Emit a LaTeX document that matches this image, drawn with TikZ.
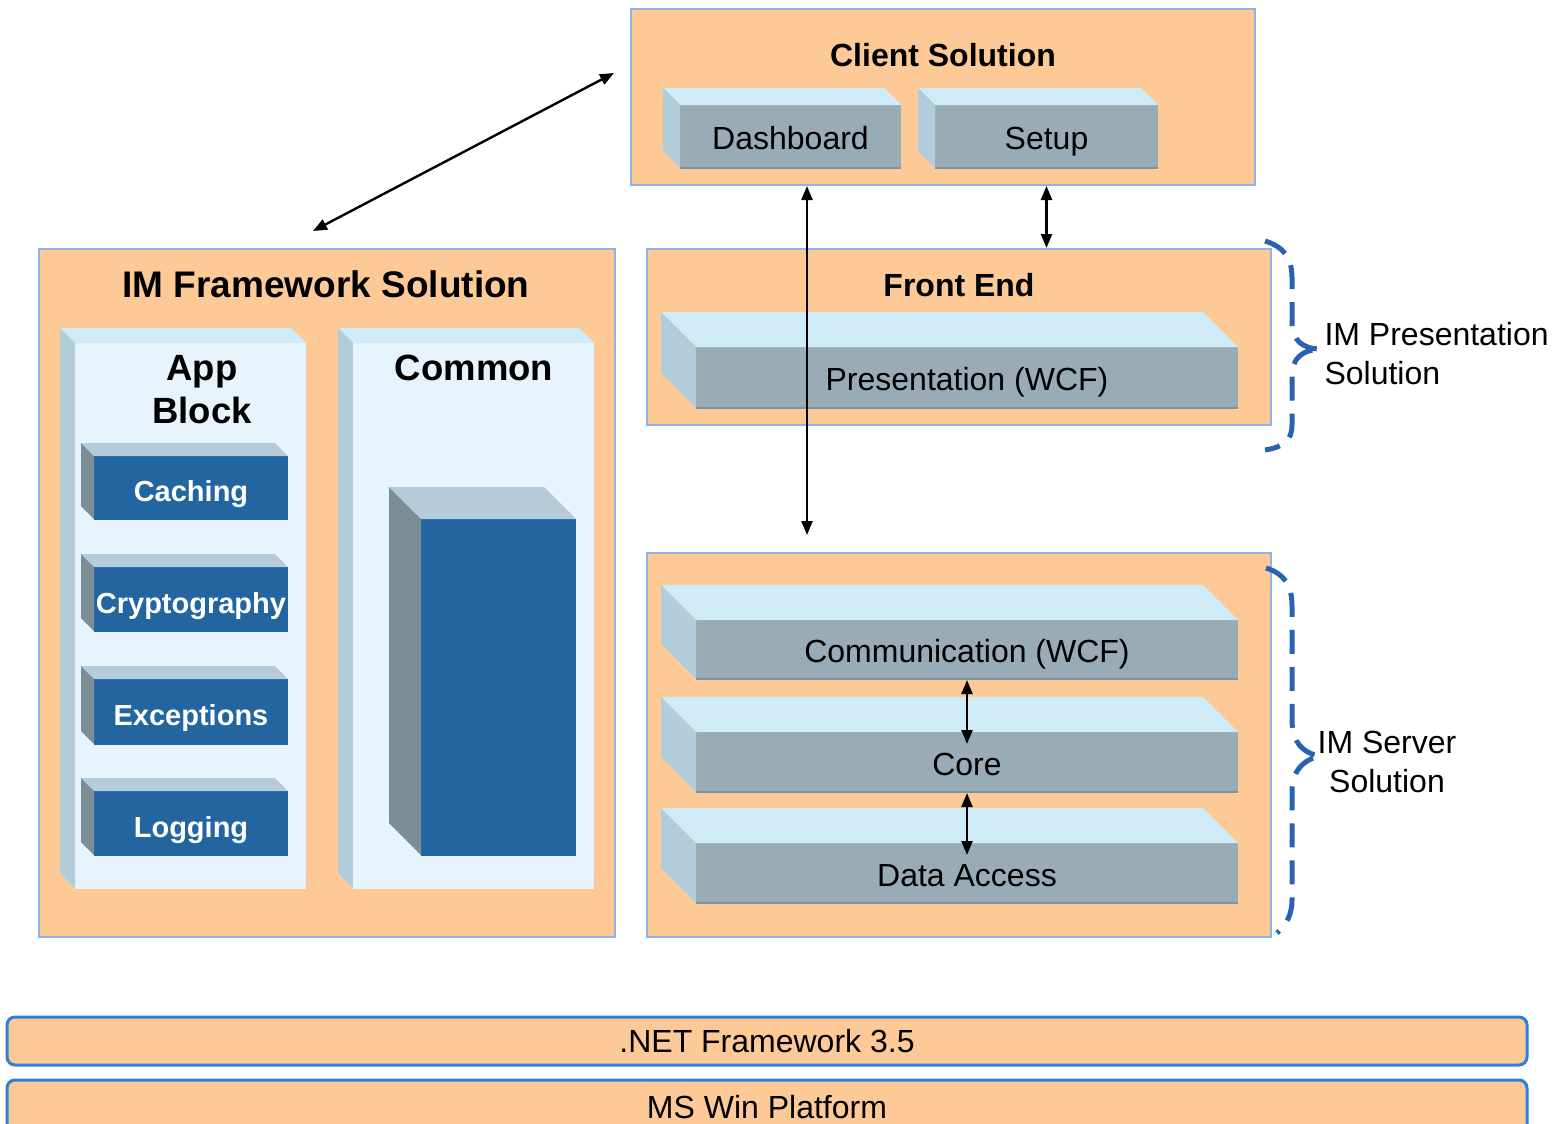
\documentclass[tikz,border=0pt]{standalone}
\usepackage{fontspec}
\setmainfont{Liberation Sans}
\usetikzlibrary{arrows.meta}
\definecolor{peach}{HTML}{FDCA97}
\definecolor{bordc}{HTML}{8EB4E3}
\definecolor{gfront}{HTML}{99ACB6}
\definecolor{gtop}{HTML}{CFEBF8}
\definecolor{gside}{HTML}{B2CDDA}
\definecolor{gedge}{HTML}{7F939E}
\definecolor{lfront}{HTML}{E8F4FB}
\definecolor{ltop}{HTML}{CFEBF8}
\definecolor{lside}{HTML}{B2CDDA}
\definecolor{ledge}{HTML}{E8F4FB}
\definecolor{bfront}{HTML}{2365A0}
\definecolor{btop}{HTML}{B4CCDA}
\definecolor{bside}{HTML}{7B8E95}
\definecolor{bedge}{HTML}{2365A0}
\definecolor{bracec}{HTML}{2B62B0}
\definecolor{barc}{HTML}{2F7ED8}
\newcommand\mycube[9]{%
  \node[cubeface, fill=#7front, minimum width={#4-#2}, minimum height={#5-#3}, #8] (#1) at (#2,#3) {#9};
  \fill[#7top] (#1.north west) -- ++(-#6,-#6) -- ++({#4-#2},0) -- (#1.north east) -- cycle;
  \fill[#7side] (#1.north west) -- ++(-#6,-#6) -- ++(0,{#5-#3}) -- (#1.south west) -- cycle;
  \draw[#7edge, line width=1.5pt] (#1.south west) -- (#1.south east);
}
\begin{document}
\begin{tikzpicture}[x=1pt,y=-1pt,
  panel/.style={draw=bordc, line width=2.5pt, fill=peach, inner sep=0pt, outer sep=0pt, anchor=north west},
  cubeface/.style={inner sep=0pt, outer sep=0pt, anchor=north west},
  gtxt/.style={font=\fontsize{32}{38}\selectfont, text=black, text height=26pt, text depth=0pt},
  btxt/.style={font=\fontsize{29}{34}\selectfont\bfseries, text=white, text height=28pt, text depth=0pt},
  ttl/.style={font=\fontsize{32}{38}\selectfont\bfseries},
  bigttl/.style={font=\fontsize{36.5}{43}\selectfont\bfseries, align=center},
  lbl/.style={font=\fontsize{32}{39}\selectfont},
  dbl/.style={{Triangle[length=14pt,width=11pt]}-{Triangle[length=14pt,width=11pt]}, line width=2.4pt},
  brace/.style={draw=bracec, line width=5pt, dash pattern=on 24pt off 13pt},
  bar/.style={draw=barc, line width=3pt, fill=peach, rounded corners=8pt, anchor=north west, inner sep=0pt, outer sep=0pt, font=\fontsize{32}{38}\selectfont}]
\useasboundingbox (0,0) rectangle (1558,1124);

% panels
\node[panel, minimum width=624pt, minimum height=176pt] (client) at (631,9) {};
\node[ttl] (clientt) at (943,55) {Client Solution};
\node[panel, minimum width=624pt, minimum height=176pt] (front) at (647,249) {};
\node[ttl] (frontt) at (959,285) {Front End};
\node[panel, minimum width=624pt, minimum height=384pt] (server) at (647,553) {};
\node[panel, minimum width=576pt, minimum height=688pt] (fw) at (39,249) {};
\node[font=\fontsize{37}{43}\selectfont\bfseries] (fwt) at (326,284) {IM Framework Solution};

% client cubes
\mycube{dash}{680}{105}{901}{168}{17}{g}{gtxt}{Dashboard}
\mycube{setup}{935}{105}{1158}{168}{17}{g}{gtxt}{Setup}
% presentation
\mycube{pres}{696}{347}{1238}{408}{35}{g}{gtxt}{Presentation (WCF)}
% server layers
\mycube{comm}{696}{620}{1238}{679}{35}{g}{gtxt}{Communication (WCF)}
\mycube{core}{696}{732}{1238}{792}{35}{g}{gtxt}{Core}
\mycube{data}{696}{843}{1238}{903}{35}{g}{gtxt}{Data Access}

% framework columns
\mycube{appcol}{75}{343}{306}{888}{15}{l}{}{}
\mycube{comcol}{353}{343}{594}{888}{15}{l}{}{}
\node[bigttl] (appt) at (202,390) {App\\Block};
\node[bigttl] (comt) at (474,368) {Common};
\mycube{cach}{94}{456}{288}{519}{13}{b}{btxt}{Caching}
\mycube{crypt}{94}{567}{288}{631}{13}{b}{btxt}{Cryptography}
\mycube{exc}{94}{679}{288}{744}{13}{b}{btxt}{Exceptions}
\mycube{logg}{94}{791}{288}{855}{13}{b}{btxt}{Logging}
\mycube{bigb}{421}{519}{576}{855}{32}{b}{}{}

% arrows
\coordinate (d1) at (313,231);
\coordinate (d2) at (614,73);
\draw[dbl] (d1) -- (d2);
\coordinate (vx) at (807,0);
\draw[dbl] ([yshift=-1pt]client.south -| vx) -- ([yshift=18pt]server.north -| vx);
\draw[dbl] ([yshift=-1pt]client.south -| setup) -- ([yshift=1pt]front.north -| setup);
\draw[dbl] ([yshift=-1pt]comm.south) -- ([yshift=-12pt]core.north);
\draw[dbl] ([yshift=-1pt]core.south) -- ([yshift=-12pt]data.north);

% braces
\draw[brace] (1265,241) .. controls (1284,247) and (1292,258) .. (1292,278) -- (1292,322)
  .. controls (1292,340) and (1302,349) .. (1321,349)
  .. controls (1302,350) and (1292,358) .. (1292,376) -- (1292,425)
  .. controls (1292,440) and (1284,447) .. (1265,450);
\node[lbl, anchor=west, align=left] (presl) at (1321,354) {IM Presentation\\Solution};
\draw[brace] (1266,568) .. controls (1285,574) and (1292,586) .. (1292,606) -- (1292,722)
  .. controls (1293,742) and (1302,753) .. (1320,756)
  .. controls (1302,760) and (1292,772) .. (1292,792) -- (1292,900)
  .. controls (1292,915) and (1286,925) .. (1277,933);
\node[lbl, align=center] (servl) at (1387,762) {IM Server\\Solution};

% bars
\node[bar, minimum width=1520pt, minimum height=48pt] (net) at (7,1017) {.NET Framework 3.5};
\node[bar, minimum width=1520pt, minimum height=70pt] (win) at (7,1080) {};
\node[font=\fontsize{32}{38}\selectfont] (wint) at (767,1107) {MS Win Platform};
\end{tikzpicture}
\end{document}
